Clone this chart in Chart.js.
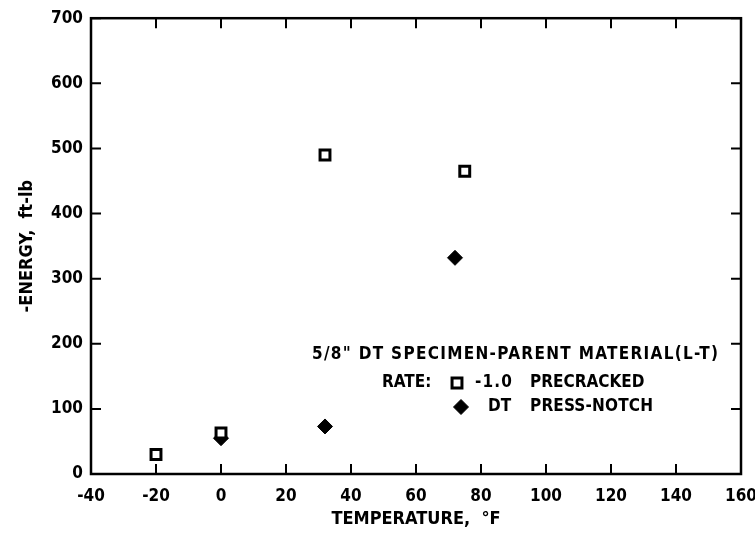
<!DOCTYPE html>
<html>
<head>
<meta charset="utf-8">
<script src="https://cdn.jsdelivr.net/npm/chart.js@4.4.0/dist/chart.umd.min.js"></script>
<style>
  html, body { margin: 0; padding: 0; background: #fff; }
  #wrap { width: 755px; height: 535px; }
</style>
</head>
<body>
<div id="wrap"><canvas id="energyChart"></canvas></div>
<script>
// data
const precrackedTemp = [-20, 0, 32, 75];
const precrackedEnergy = [30, 63, 490, 465];
const notchTemp = [0, 32, 72];
const notchEnergy = [55, 73, 332];
const xTickValues = [-40, -20, 0, 20, 40, 60, 80, 100, 120, 140, 160];
const yTickValues = [0, 100, 200, 300, 400, 500, 600, 700];

const FONT = "'DejaVu Sans Condensed', 'Liberation Sans Narrow', sans-serif";

// stretch a string between two x pixels
function spread(ctx, text, x0, x1, y) {
    ctx.letterSpacing = '0px';
    const w = ctx.measureText(text).width;
    const gap = text.length > 1 ? Math.max(0, (x1 - x0 - w) / (text.length - 1)) : 0;
    ctx.letterSpacing = gap + 'px';
    ctx.textAlign = 'left';
    ctx.fillText(text, x0, y);
    ctx.letterSpacing = '0px';
}

// tick marks pointing into the plot + box frame
const inwardTicks = {
    id: 'inwardTicks',
    beforeDatasetsDraw(chart) {
        const { ctx, chartArea: a, scales: { x, y } } = chart;
        ctx.save();
        ctx.strokeStyle = '#000';
        ctx.lineWidth = 2;
        ctx.beginPath();
        x.ticks.forEach(t => {
            const px = x.getPixelForValue(t.value);
            ctx.moveTo(px, a.bottom); ctx.lineTo(px, a.bottom - 10);
            ctx.moveTo(px, a.top); ctx.lineTo(px, a.top + 10);
        });
        y.ticks.forEach(t => {
            const py = y.getPixelForValue(t.value);
            ctx.moveTo(a.left, py); ctx.lineTo(a.left + 10, py);
            ctx.moveTo(a.right, py); ctx.lineTo(a.right - 10, py);
        });
        ctx.stroke();
        ctx.lineWidth = 2.5;
        ctx.strokeRect(a.left, a.top, a.width, a.height);
        ctx.restore();
    }
};

// the key text block inside the plot
const noteBlock = {
    id: 'noteBlock',
    afterDraw(chart) {
        const ctx = chart.ctx;
        ctx.save();
        ctx.fillStyle = '#000';
        ctx.strokeStyle = '#000';
        ctx.font = 'bold 17px ' + FONT;
        ctx.textBaseline = 'middle';
        spread(ctx, '5/8" DT SPECIMEN-PARENT MATERIAL(L-T)', 312, 718, 355);
        spread(ctx, 'RATE:', 382, 423, 383);
        spread(ctx, '-1.0', 475, 512, 383);
        spread(ctx, 'PRECRACKED', 530, 643, 383);
        spread(ctx, 'DT', 488, 508, 407);
        spread(ctx, 'PRESS-NOTCH', 530, 653, 407);

        ctx.fillStyle = '#fff';
        ctx.lineWidth = 3;
        Chart.helpers.drawPoint(ctx, { pointStyle: 'rect', radius: 7, borderWidth: 3, rotation: 0 }, 457, 383);
        ctx.fillStyle = '#000';
        ctx.lineWidth = 1;
        Chart.helpers.drawPoint(ctx, { pointStyle: 'rectRot', radius: 7.5, borderWidth: 1, rotation: 0 }, 461, 407);
        ctx.restore();
    }
};

const ctxEnergy = document.getElementById('energyChart').getContext('2d');
const energyChart = new Chart(ctxEnergy, {
    type: 'scatter',
    data: {
        datasets: [{
            label: '-1.0 PRECRACKED',
            data: precrackedTemp.map((t, i) => ({ x: t, y: precrackedEnergy[i] })),
            pointStyle: 'rect',
            pointRadius: 7,
            pointBorderWidth: 3,
            pointBackgroundColor: '#fff',
            pointBorderColor: '#000'
        }, {
            label: 'DT PRESS-NOTCH',
            data: notchTemp.map((t, i) => ({ x: t, y: notchEnergy[i] })),
            pointStyle: 'rectRot',
            pointRadius: 7.5,
            pointBorderWidth: 1,
            pointBackgroundColor: '#000',
            pointBorderColor: '#000'
        }]
    },
    options: {
        responsive: true,
        maintainAspectRatio: false,
        animation: false,
        layout: { padding: { top: 16, right: 14, left: 0, bottom: 0 } },
        plugins: {
            legend: { display: false },
            tooltip: { enabled: false }
        },
        scales: {
            x: {
                type: 'linear',
                min: -40,
                max: 160,
                afterBuildTicks: scale => { scale.ticks = xTickValues.map(v => ({ value: v })); },
                afterFit: scale => {
                    scale.height = 61;
                    scale.paddingLeft = 0;
                    scale.paddingRight = 0;
                },
                grid: { display: false, drawTicks: false },
                border: { display: false },
                ticks: {
                    padding: 12,
                    color: '#000',
                    font: { family: FONT, size: 17, weight: 'bold' },
                    maxRotation: 0
                },
                title: {
                    display: true,
                    text: 'TEMPERATURE,  °F',
                    color: '#000',
                    font: { family: FONT, size: 18, weight: 'bold' },
                    padding: { top: 0, bottom: 5 }
                }
            },
            y: {
                type: 'linear',
                min: 0,
                max: 700,
                afterBuildTicks: scale => { scale.ticks = yTickValues.map(v => ({ value: v })); },
                afterFit: scale => { scale.width = 91; },
                grid: { display: false, drawTicks: false },
                border: { display: false },
                ticks: {
                    padding: 8,
                    color: '#000',
                    font: { family: FONT, size: 17, weight: 'bold' }
                },
                title: {
                    display: true,
                    text: '-ENERGY,  ft-lb',
                    color: '#000',
                    font: { family: FONT, size: 18, weight: 'bold' },
                    padding: { top: 17, bottom: 0 }
                }
            }
        }
    },
    plugins: [inwardTicks, noteBlock]
});
</script>
</body>
</html>
